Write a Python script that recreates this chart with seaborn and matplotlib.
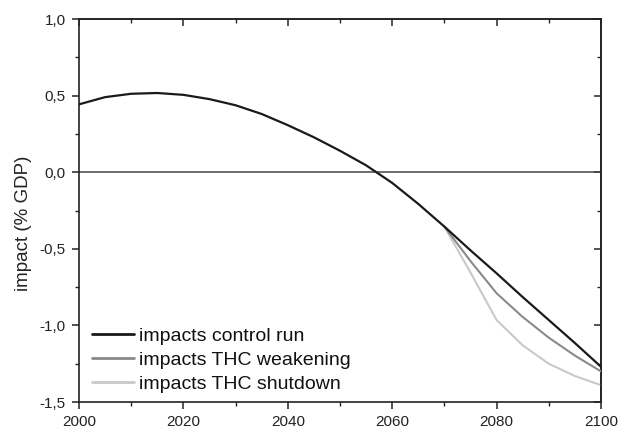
import pandas as pd
import matplotlib
matplotlib.use("Agg")
import matplotlib.pyplot as plt
import matplotlib.ticker as mticker
import seaborn as sns

# values (impact in % GDP)
years = [2000, 2005, 2010, 2015, 2020, 2025, 2030, 2035, 2040, 2045, 2050,
         2055, 2060, 2065, 2070, 2075, 2080, 2085, 2090, 2095, 2100]
control = [0.443, 0.49, 0.512, 0.517, 0.505, 0.477, 0.437, 0.38, 0.307, 0.228, 0.14,
           0.045, -0.07, -0.207, -0.355, -0.51, -0.66, -0.815, -0.965, -1.115, -1.27]
years_thc = [2070, 2075, 2080, 2085, 2090, 2095, 2100]
weakening = [-0.355, -0.58, -0.79, -0.945, -1.08, -1.197, -1.30]
shutdown = [-0.355, -0.655, -0.965, -1.13, -1.25, -1.33, -1.39]

df_ctrl = pd.DataFrame({"year": years, "impact": control})
df_weak = pd.DataFrame({"year": years_thc, "impact": weakening})
df_shut = pd.DataFrame({"year": years_thc, "impact": shutdown})

sns.set_style("ticks")
plt.rcParams['font.family'] = ['Liberation Sans', 'DejaVu Sans']

fig = plt.figure(figsize=(6.25, 4.28), dpi=100)
ax = fig.add_axes([0.1264, 0.0607, 0.8352, 0.8949])

ax.axhline(0, color="#444444", lw=1.1, zorder=1)
sns.lineplot(data=df_shut, x="year", y="impact", color="#c9c9c9", lw=1.5,
             label="impacts THC shutdown", ax=ax, zorder=2)
sns.lineplot(data=df_weak, x="year", y="impact", color="#8a8a8a", lw=1.5,
             label="impacts THC weakening", ax=ax, zorder=3)
sns.lineplot(data=df_ctrl, x="year", y="impact", color="#1a1a1a", lw=1.6,
             label="impacts control run", ax=ax, zorder=4)

ax.set_xlim(2000, 2100)
ax.set_ylim(-1.5, 1.0)
ax.xaxis.set_major_locator(mticker.MultipleLocator(20))
ax.xaxis.set_minor_locator(mticker.MultipleLocator(10))
ax.yaxis.set_major_locator(mticker.MultipleLocator(0.5))
ax.yaxis.set_minor_locator(mticker.MultipleLocator(0.25))
ax.yaxis.set_major_formatter(mticker.FuncFormatter(lambda v, p: ("%.1f" % v).replace(".", ",")))
ax.tick_params(which="major", direction="out", length=5, width=1.1, labelsize=11,
               colors="#222222")
ax.tick_params(which="minor", direction="out", length=3, width=1.0, colors="#222222")
ax.tick_params(axis="y", which="major", pad=4.5)
ax.tick_params(axis="x", which="major", pad=4.5)

# top and right ticks point inwards
sx = ax.secondary_xaxis("top")
sy = ax.secondary_yaxis("right")
for sec in (sx, sy):
    sec.tick_params(which="major", direction="in", length=5, width=1.1)
    sec.tick_params(which="minor", direction="in", length=3, width=1.0)
    for s in sec.spines.values():
        s.set_linewidth(1.2)
        s.set_color("#222222")
sx.xaxis.set_major_locator(mticker.MultipleLocator(20))
sx.xaxis.set_minor_locator(mticker.MultipleLocator(10))
sx.xaxis.set_major_formatter(mticker.NullFormatter())
sy.yaxis.set_major_locator(mticker.MultipleLocator(0.5))
sy.yaxis.set_minor_locator(mticker.MultipleLocator(0.25))
sy.yaxis.set_major_formatter(mticker.NullFormatter())

for s in ax.spines.values():
    s.set_visible(True)
    s.set_linewidth(1.2)
    s.set_color("#222222")

ax.set_xlabel("")
ax.set_ylabel("impact (% GDP)", fontsize=13.5, color="#222222")
ax.yaxis.set_label_coords(-0.09, 0.467)

handles, labels = ax.get_legend_handles_labels()
order = [labels.index(l) for l in ["impacts control run", "impacts THC weakening", "impacts THC shutdown"]]
ax.legend([handles[i] for i in order], [labels[i] for i in order], loc="lower left",
          bbox_to_anchor=(0.0, -0.01), frameon=False, fontsize=14, handlelength=2.2,
          handletextpad=0.26, labelspacing=0.33, borderaxespad=0.3, borderpad=0.35)
for line in ax.get_legend().get_lines():
    line.set_linewidth(2.0)
for t in ax.get_legend().get_texts():
    t.set_color("#111111")

fig.savefig("out.png", dpi=100)
